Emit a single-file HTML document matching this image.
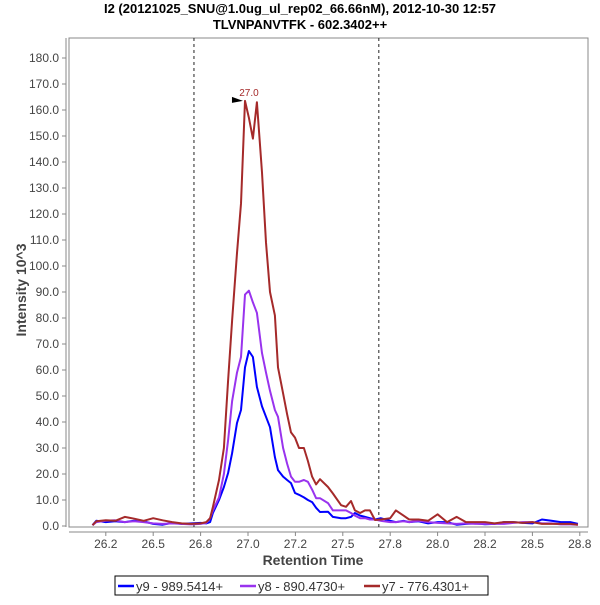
<!DOCTYPE html>
<html><head><meta charset="utf-8"><style>
body{margin:0;background:#fff;font-family:"Liberation Sans",sans-serif}
</style></head><body>
<svg width="600" height="600" xmlns="http://www.w3.org/2000/svg" font-family="Liberation Sans, sans-serif">
<text x="300" y="13" text-anchor="middle" font-size="13" font-weight="bold">I2 (20121025_SNU@1.0ug_ul_rep02_66.66nM), 2012-10-30 12:57</text>
<text x="300" y="29" text-anchor="middle" font-size="13" font-weight="bold">TLVNPANVTFK - 602.3402++</text>
<rect x="69" y="38" width="519" height="489" fill="#fff" stroke="#888" stroke-width="1"/>
<g id="axes"></g>
<g id="series"></g>
<text transform="translate(26,290) rotate(-90)" text-anchor="middle" font-size="14" font-weight="bold" fill="#444">Intensity 10^3</text>
<text x="313" y="565" text-anchor="middle" font-size="14" font-weight="bold" fill="#444">Retention Time</text>
<g>
<rect x="115" y="576" width="373" height="19" fill="#fff" stroke="#000"/>
<line x1="118" y1="586" x2="134" y2="586" stroke="#0000ff" stroke-width="2.5"/>
<text x="136" y="591" font-size="13" fill="#333">y9 - 989.5414+</text>
<line x1="240" y1="586" x2="256" y2="586" stroke="#9933ee" stroke-width="2.5"/>
<text x="258" y="591" font-size="13" fill="#333">y8 - 890.4730+</text>
<line x1="364" y1="586" x2="380" y2="586" stroke="#a52a2a" stroke-width="2.5"/>
<text x="382" y="591" font-size="13" fill="#333">y7 - 776.4301+</text>
</g>
</svg>
<script>
const times=[26.18,26.2,26.25,26.3,26.35,26.4,26.45,26.5,26.55,26.6,26.65,26.7,26.75,26.78,
26.80,26.815,26.847,26.873,26.895,26.916,26.942,26.963,26.984,27.005,27.026,27.047,27.074,27.095,27.116,27.142,27.158,27.185,27.206,27.227,27.248,27.269,27.295,27.316,27.338,27.359,27.380,27.422,27.448,27.491,27.517,27.543,27.564,27.591,27.617,27.643,27.670,
27.70,27.75,27.78,27.82,27.85,27.9,27.95,28.0,28.05,28.1,28.15,28.2,28.25,28.3,28.35,28.4,28.45,28.5,28.55,28.6,28.65,28.7,28.74];
const y9=[0.3,2,1.5,1.8,1.5,2,1.8,0.8,0.5,1.2,0.8,1,1.2,1,
1.5,5,10,15,20.4,28,39.6,44.6,61,67.3,65,53.5,46,42,38,26.5,21.5,19,17.7,16.5,12.7,12,11,10,9.2,7,5.4,5.5,3.5,3,3,3.5,5,4,3.5,3,2.5,
3,2,1.5,2,1.5,1.8,1,1.5,1.5,0.5,0.8,1,0.7,0.8,1.5,1.5,1.2,1,2.5,2,1.5,1.5,0.8];
const y8=[0.3,1.5,2,2.2,1.5,1.8,1.5,1,0.8,1,0.8,0.6,0.8,1.2,
3,6,11,20,33,48,59,65,89,90.5,86,82,66.5,59,52,44.6,42,30,24,19,17,17,17.7,17,14,10.7,10.7,8.8,6,6,6,5,4,3,3,2.5,2.5,
2,1.5,1.5,1.8,1.5,2,1.5,1.2,1,0.8,1,0.8,0.8,0.8,0.8,1.2,1.5,1.5,1,1,0.6,0.6,0.5];
const y7=[0.3,1.8,2.2,2,3.5,2.8,2,3,2.2,1.5,1,0.8,1,1.5,
3,7.3,17.7,30,56,79,105,124,163.5,157,149,163,136,109,90,81,61,51,43,36,34,30,30,25,19,16,18,15,12.5,8,7.4,9.6,6,5,6,6,2.3,
2.5,3,6,4,2.5,2.5,2,4.5,1.5,3.5,1.5,1.5,1.5,1,1.5,1.5,1.2,1.5,0.8,0.8,0.8,0.8,0.5];
const xTicks=[26.25,26.5,26.75,27.0,27.25,27.5,27.75,28.0,28.25,28.5,28.75];
const xTickLabels=["26.2","26.5","26.8","27.0","27.2","27.5","27.8","28.0","28.2","28.5","28.8"];
const yTicks=[0,10,20,30,40,50,60,70,80,90,100,110,120,130,140,150,160,170,180];
const markers=[26.715,27.69];
const peakLabel={t:26.984,v:163.5,text:"27.0"};
const NS="http://www.w3.org/2000/svg";
function X(t){return 248+(t-27)*189.6;}
function Y(v){return 526-v*2.6;}
function mk(tag,attrs,parent){const e=document.createElementNS(NS,tag);for(const k in attrs)e.setAttribute(k,attrs[k]);parent.appendChild(e);return e;}
const ax=document.getElementById('axes');
const yl=mk('line',{x1:66,y1:38,x2:66,y2:527,stroke:'#888'},ax);


const xl=mk('line',{x1:69,y1:532,x2:588,y2:532,stroke:'#888'},ax);


yTicks.forEach(v=>{
  mk('line',{x1:62,y1:Y(v),x2:66,y2:Y(v),stroke:'#888'},ax);
  const t=mk('text',{x:59,y:Y(v)+4,'text-anchor':'end','font-size':12,fill:'#444'},ax);
  t.textContent=v.toFixed(1);
  
  
});
xTicks.forEach((v,i)=>{
  mk('line',{x1:X(v),y1:532,x2:X(v),y2:536,stroke:'#888'},ax);
  const t=mk('text',{x:X(v),y:548,'text-anchor':'middle','font-size':12,fill:'#444'},ax);
  t.textContent=xTickLabels[i];
  
  
});
markers.forEach(m=>{
  const l=mk('line',{x1:X(m),y1:38,x2:X(m),y2:527,stroke:'#222','stroke-dasharray':'3,3'},ax);
  
  
});
const sg=document.getElementById('series');
[[y9,'#0000ff','series-y9'],[y8,'#9933ee','series-y8'],[y7,'#a52a2a','series-y7']].forEach(s=>{
  const pts=times.map((t,i)=>X(t).toFixed(1)+','+Y(s[0][i]).toFixed(1)).join(' ');
  const p=mk('polyline',{points:pts,fill:'none',stroke:s[1],'stroke-width':2,'stroke-linejoin':'round'},sg);
  
  
});
const pl=mk('text',{x:X(peakLabel.t)+4,y:Y(peakLabel.v)-5,'text-anchor':'middle','font-size':10,fill:'#a52a2a'},sg);
pl.textContent=peakLabel.text;


const px=X(peakLabel.t),py=Y(peakLabel.v);
const ar=mk('polygon',{points:`${px-13},${py-4} ${px-2},${py} ${px-13},${py+2}`,fill:'#000'},sg);


</script>
</body></html>
